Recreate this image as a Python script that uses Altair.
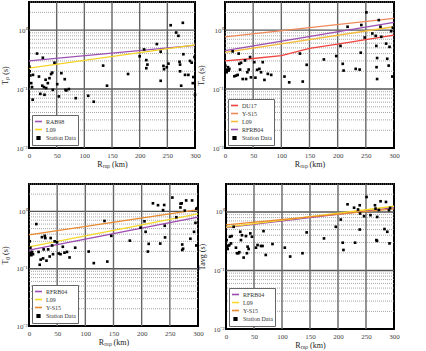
import altair as alt
import pandas as pd

FONT = "Liberation Serif"

# ---------------- Panel 1 : T_p ----------------
p1_R = [0.6, 1.2, 2.4, 4, 5.4, 6.6, 7.2, 14.5, 18, 20.5, 24, 25, 27, 28, 30, 31, 34, 37, 40, 42, 43, 46,
        51, 54, 58.5, 64.6, 66, 67.6, 72, 84.5, 107, 117, 134, 141, 179, 200, 208, 212, 212, 214, 231,
        238, 238, 243, 244, 249, 252, 256, 266, 270, 272, 273, 273, 275, 278, 279, 282, 288, 291, 294,
        296, 297, 299, 300]
p1_T = [0.24, 0.20, 0.17, 0.126, 0.108, 0.066, 0.174, 0.40, 0.163, 0.083, 0.114, 0.34, 0.108, 0.080,
        0.144, 0.104, 0.126, 0.153, 0.18, 0.19, 0.097, 0.28, 0.121, 0.075, 0.186, 0.147, 0.097, 0.095,
        0.10, 0.070, 0.077, 0.061, 0.25, 0.114, 0.18, 0.36, 0.47, 0.31, 0.226, 0.26, 0.58, 0.43, 0.138,
        0.247, 0.217, 0.235, 0.27, 1.21, 0.91, 0.80, 0.29, 0.26, 0.20, 0.114, 1.33, 0.39, 0.174, 0.174,
        0.30, 0.28, 0.126, 0.16, 0.35, 0.080]
p1_series = ["RAB98", "L09"]
p1_colors = ["#9B52B3", "#F5D327"]
p1_line_R = {"RAB98": [0, 300], "L09": [0, 300]}
p1_line_T = {"RAB98": [0.30, 0.55], "L09": [0.226, 0.56]}

# ---------------- Panel 2 : T_m ----------------
p2_R = [0.6, 1.8, 3, 4.2, 5.3, 6.5, 7.7, 13.6, 16.6, 19.6, 22.5, 24.3, 25.5, 26.7, 28.5, 31.4, 35.6,
        37.4, 39.7, 42, 44.5, 46, 52, 54, 57, 61, 64, 67, 70, 76, 82, 105.6, 114, 133, 138, 145, 175.5,
        197.5, 205, 209, 210.5, 217.6, 232, 239, 241, 242, 248, 251, 261.5, 267.5, 268.6, 270, 269, 270,
        273, 276, 277.5, 286, 288, 290.5, 292, 295, 297, 298]
p2_T = [0.25, 0.206, 0.193, 0.214, 0.235, 0.206, 0.22, 0.436, 0.165, 0.169, 0.174, 0.40, 0.268, 0.214,
        0.279, 0.148, 0.306, 0.148, 0.193, 0.214, 0.349, 0.158, 0.286, 0.156, 0.212, 0.22, 0.193, 0.286,
        0.143, 0.181, 0.174, 0.163, 0.13, 0.40, 0.134, 0.258, 0.318, 0.363, 0.54, 0.268, 0.206, 1.14,
        0.22, 0.214, 0.414, 1.22, 0.75, 2.0, 0.877, 0.80, 0.54, 0.336, 0.235, 0.148, 1.48, 1.14, 0.77,
        0.59, 0.327, 0.25, 0.52, 0.96, 0.163, 1.10]
p2_series = ["DU17", "Y-S15", "L09", "RFRB04"]
p2_colors = ["#F0433E", "#EE8A5A", "#F5BC3A", "#9C4FB1"]
p2_line_R = {"DU17": [0, 50, 100, 150, 200, 250, 300], "Y-S15": [0, 300], "L09": [0, 300],
             "RFRB04": [0, 300]}
p2_line_T = {"DU17": [0.30, 0.33, 0.37, 0.49, 0.58, 0.69, 0.82], "Y-S15": [0.77, 1.58],
             "L09": [0.42, 1.14], "RFRB04": [0.45, 1.35]}

# ---------------- Panel 3 : T_0 ----------------
p3_R = [1.2, 2.4, 3, 4.1, 5.3, 7.1, 13, 17, 19, 20.7, 23, 25, 26, 28, 29, 31, 34, 36.7, 38.5, 41,
        42.6, 45.6, 49.7, 52.7, 56, 60, 63, 67.5, 72, 82, 106, 115, 134, 139, 146, 179, 198, 205, 207,
        211, 212.5, 220, 229, 233, 238, 240, 241, 241.5, 254.5, 261.6, 268.8, 269, 271, 272, 272,
        273.5, 276.5, 279, 286.5, 289.5, 293, 295.5, 297, 297, 299]
p3_T = [0.30, 0.232, 0.19, 0.172, 0.196, 0.179, 0.60, 0.196, 0.117, 0.144, 0.355, 0.151, 0.217, 0.374,
        0.342, 0.138, 0.217, 0.163, 0.342, 0.254, 0.179, 0.30, 0.289, 0.184, 0.179, 0.241, 0.19, 0.196,
        0.157, 0.232, 0.199, 0.125, 0.68, 0.133, 0.374, 0.308, 0.52, 0.67, 0.44, 0.199, 0.271, 1.38,
        1.28, 0.274, 1.05, 1.29, 0.56, 0.351, 1.74, 0.79, 1.17, 1.36, 1.38, 0.264, 0.212, 0.223, 1.03,
        1.55, 0.333, 1.55, 0.44, 0.63, 1.11, 0.254, 1.14]
p3_series = ["RFRB04", "L09", "Y-S15"]
p3_colors = ["#9C4BB0", "#F7D829", "#E98A2E"]
p3_line_R = {"RFRB04": [0, 300], "L09": [0, 300], "Y-S15": [0, 300]}
p3_line_T = {"RFRB04": [0.21, 0.79], "L09": [0.24, 0.90], "Y-S15": [0.39, 1.07]}

# ---------------- Panel 4 : T_avg ----------------
p4_R = [1.2, 1.8, 3, 4.2, 6, 7, 9, 10, 13.7, 17.8, 19.6, 22, 23.8, 25.5, 26.7, 28.5, 31.5, 35.6, 37.4,
        38.6, 40.4, 43.4, 46.3, 53.5, 56.4, 62.4, 65.3, 67, 71, 83, 105, 114.6, 136.6, 144, 175, 196,
        205, 208.5, 209.7, 217, 228.7, 230.5, 235.8, 238.8, 238.8, 239.4, 246.5, 251, 258, 266, 267,
        268.5, 269.7, 270, 273, 276, 283, 285.7, 288, 291, 292, 293]
p4_T = [0.33, 0.255, 0.233, 0.265, 0.272, 0.377, 0.29, 0.387, 0.557, 0.245, 0.197, 0.197, 0.205, 0.458,
        0.33, 0.40, 0.166, 0.387, 0.197, 0.255, 0.233, 0.43, 0.377, 0.245, 0.272, 0.262, 0.262, 0.47,
        0.184, 0.283, 0.245, 0.173, 0.197, 0.447, 0.353, 0.557, 0.74, 0.298, 0.224, 1.35, 1.18, 0.298,
        1.10, 1.30, 0.50, 0.94, 0.845, 1.80, 0.88, 1.30, 1.14, 0.33, 0.32, 0.82, 1.08, 1.52, 0.51, 1.48,
        0.458, 1.07, 0.29, 1.17]
p4_series = ["RFRB04", "L09", "Y-S15"]
p4_colors = ["#9C4BB0", "#F7D829", "#E98A2E"]
p4_line_R = {"RFRB04": [0, 300], "L09": [0, 300], "Y-S15": [0, 300]}
p4_line_T = {"RFRB04": [0.54, 1.18], "L09": [0.55, 1.25], "Y-S15": [0.60, 1.13]}

# grid helper values
X_TICKS = [0, 50, 100, 150, 200, 250, 300]
X_MAJOR = [50, 100, 150, 200, 250]
Y_TICKS = [0.01, 0.1, 1]
Y_MAJOR = [0.1, 1]
Y_MINOR = [0.02, 0.03, 0.04, 0.05, 0.06, 0.07, 0.08, 0.09,
           0.2, 0.3, 0.4, 0.5, 0.6, 0.7, 0.8, 0.9, 2, 3]

XSCALE = alt.Scale(domain=[0, 300], nice=False, zero=False)
YSCALE = alt.Scale(type="log", domain=[0.01, 3], nice=False)

Y_LABEL_EXPR = "datum.value >= 0.99 ? '10\u2070' : (datum.value >= 0.099 ? '10\u207b\u00b9' : '10\u207b\u00b2')"


def panel(R, T, series, colors, line_R, line_T, ytitle, w, h):
    pts = pd.DataFrame({"R": R, "T": T, "series": "Station Data"})
    rows = []
    for s in series:
        for r, t in zip(line_R[s], line_T[s]):
            rows.append({"R": r, "T": t, "series": s})
    ldf = pd.DataFrame(rows)

    dom = series + ["Station Data"]
    cscale = alt.Scale(domain=dom, range=colors + ["black"])
    sscale = alt.Scale(domain=dom, range=["stroke"] * len(series) + ["square"])
    zscale = alt.Scale(type="ordinal", domain=dom, range=[49] * len(series) + [7])
    legend = alt.Legend(title=None, orient="bottom-left")

    xaxis = alt.Axis(values=X_TICKS, title="R\u1d63\u1d64\u209a (km)", labelPadding=3,
                     titlePadding=2, labelFlush=False)
    yaxis = alt.Axis(values=Y_TICKS, title=ytitle, labelExpr=Y_LABEL_EXPR, labelPadding=2,
                     minExtent=18, maxExtent=18, titlePadding=2)

    X = lambda f: alt.X(f, scale=XSCALE, axis=xaxis, title="R\u1d63\u1d64\u209a (km)")
    Y = lambda f: alt.Y(f, scale=YSCALE, axis=yaxis, title=ytitle)

    minor = alt.Chart(pd.DataFrame({"T": Y_MINOR})).mark_rule(
        color="#8f8f8f", strokeWidth=0.8, strokeDash=[1, 1]).encode(y=Y("T:Q"))
    majy = alt.Chart(pd.DataFrame({"T": Y_MAJOR})).mark_rule(
        color="#555555", strokeWidth=1.4).encode(y=Y("T:Q"))
    majx = alt.Chart(pd.DataFrame({"R": X_MAJOR})).mark_rule(
        color="#666666", strokeWidth=1.4).encode(x=X("R:Q"))

    layers = [minor, majy, majx]
    for s in series:
        layers.append(
            alt.Chart(ldf).transform_filter(alt.datum.series == s).mark_line(strokeWidth=1.3).encode(
                x=X("R:Q"), y=Y("T:Q"),
                color=alt.Color("series:N", scale=cscale, legend=legend),
            ))
    layers.append(
        alt.Chart(pts).mark_point(filled=True, opacity=1).encode(
            x=X("R:Q"), y=Y("T:Q"),
            color=alt.Color("series:N", scale=cscale, legend=legend),
            shape=alt.Shape("series:N", scale=sscale, legend=legend),
            size=alt.Size("series:N", scale=zscale, legend=legend),
        ))
    return alt.layer(*layers).properties(width=w, height=h)


c1 = panel(p1_R, p1_T, p1_series, p1_colors, p1_line_R, p1_line_T, "T\u209a (s)", 166, 146)
c2 = panel(p2_R, p2_T, p2_series, p2_colors, p2_line_R, p2_line_T, "T\u2098 (s)", 169, 146)
c3 = panel(p3_R, p3_T, p3_series, p3_colors, p3_line_R, p3_line_T, "T\u2080 (s)", 169, 142)
c4 = panel(p4_R, p4_T, p4_series, p4_colors, p4_line_R, p4_line_T, "Tavg (s)", 168, 145)

res = dict(color="independent", shape="independent", size="independent", x="independent", y="independent")
row1 = alt.hconcat(c1, c2, spacing=30, bounds="flush").resolve_scale(**res)
row2 = alt.hconcat(c3, c4, spacing=28, bounds="flush").resolve_scale(**res)

chart = alt.vconcat(row1, row2, spacing=13).resolve_scale(**res).properties(
    padding={"left": 0, "top": 0, "right": 0, "bottom": 0}
).configure_view(
    stroke="black", strokeWidth=2
).configure_axis(
    labelFont=FONT, titleFont=FONT, labelFontSize=7, titleFontSize=8,
    labelColor="#444444", titleColor="#222222", titleFontWeight="normal",
    ticks=False, domain=False, grid=False
).configure_legend(
    labelFont=FONT, labelFontSize=6, labelColor="#333333",
    strokeColor="#666666", fillColor="white", padding=2, offset=3,
    rowPadding=0, symbolStrokeWidth=1.6, cornerRadius=0, labelOffset=3
)

chart.save("out.html", embed_options={"renderer": "svg", "actions": False})
